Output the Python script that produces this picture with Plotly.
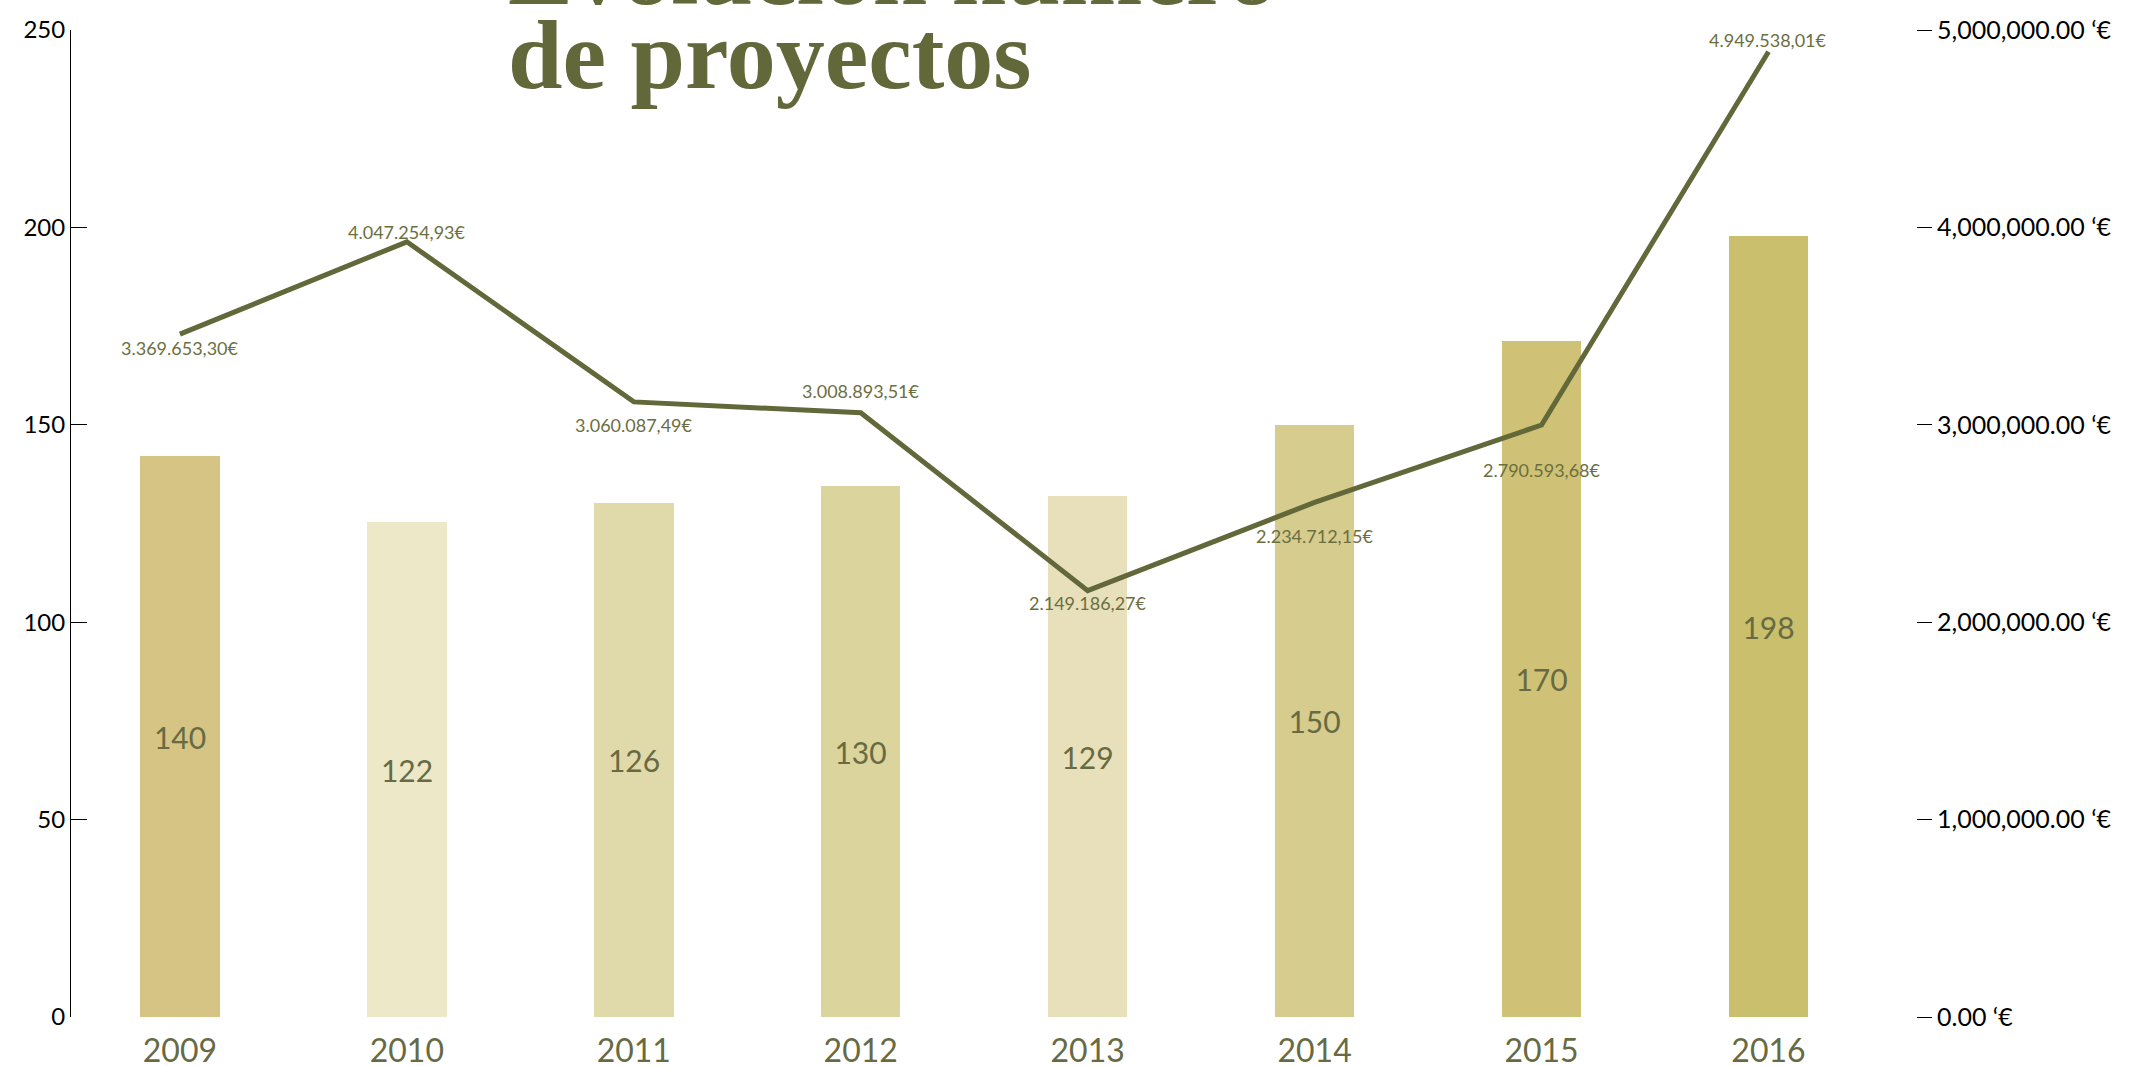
import plotly.graph_objects as go

years = ["2009", "2010", "2011", "2012", "2013", "2014", "2015", "2016"]
proyectos = [142, 125.5, 130.3, 134.5, 132, 149.9, 171.2, 197.7]
proyectos_txt = ["140", "122", "126", "130", "129", "150", "170", "198"]
importe = [3459000, 3927000, 3116000, 3061000, 2160000, 2607000, 2999000, 4890000]
importe_txt = [
    "3.369.653,30€", "4.047.254,93€", "3.060.087,49€", "3.008.893,51€",
    "2.149.186,27€", "2.234.712,15€", "2.790.593,68€", "4.949.538,01€",
]
bar_colors = ["#d5c483", "#ece8c8", "#e0d9aa", "#dbd49d", "#e7e0bb", "#d5cc8e", "#cfc175", "#c9bf6c"]
# vertical nudge (px) of each amount label relative to its point
label_shift = [-14, 10, -23, 22, -12, -34, -45, 12]

OLIVE = "#62683a"
FONT = "Lato"

fig = go.Figure()

fig.add_trace(
    go.Bar(
        x=years, y=proyectos, text=proyectos_txt,
        textposition="inside", insidetextanchor="middle",
        textfont={"size": 30, "color": "#676a42", "family": FONT},
        marker={"color": bar_colors, "line": {"width": 0}},
        width=0.35, name="Proyectos",
    )
)

fig.add_trace(
    go.Scatter(
        x=years, y=importe, yaxis="y2", mode="lines",
        line={"color": OLIVE, "width": 5}, name="Importe",
    )
)

# category axis -> annotation x is the category index
for i, (val, txt, dy) in enumerate(zip(importe, importe_txt, label_shift)):
    fig.add_annotation(
        x=i, y=val, xref="x", yref="y2", text=txt, showarrow=False, yshift=dy,
        font={"size": 18, "color": "#6b6f40", "family": FONT},
    )

# title, second line sits over the plot, first line runs off the top
fig.add_annotation(
    text="<b>Evolución número</b>", xref="paper", yref="paper",
    x=0.236, y=1.003, xanchor="left", yanchor="bottom", showarrow=False,
    font={"family": "Liberation Serif", "size": 98, "color": OLIVE},
)
fig.add_annotation(
    text="<b>de proyectos</b>", xref="paper", yref="paper",
    x=0.236, y=0.918, xanchor="left", yanchor="bottom", showarrow=False,
    font={"family": "Liberation Serif", "size": 98, "color": OLIVE},
)

fig.update_layout(
    width=2129, height=1066,
    margin={"l": 71, "r": 213, "t": 30, "b": 49, "autoexpand": False},
    plot_bgcolor="white", paper_bgcolor="white",
    showlegend=False, bargap=0,
    font={"family": FONT},
    xaxis={
        "type": "category", "range": [-0.48, 7.65], "showgrid": False, "showline": False,
        "automargin": False, "ticks": "", "ticklabelstandoff": 12,
        "tickfont": {"size": 32, "color": "#676a42"},
    },
    yaxis={
        "range": [0, 250], "dtick": 50, "showgrid": False, "zeroline": False, "automargin": False,
        "showline": True, "linecolor": "black", "linewidth": 1,
        "ticks": "inside", "ticklen": 16, "tickcolor": "black",
        "tickfont": {"size": 24, "color": "black"},
    },
    yaxis2={
        "range": [0, 5000000], "dtick": 1000000, "overlaying": "y", "side": "right",
        "showgrid": False, "zeroline": False, "showline": False, "automargin": False,
        "ticks": "outside", "ticklen": 15, "tickcolor": "black",
        "tickformat": ",.2f", "ticksuffix": " ‘€",
        "tickfont": {"size": 25, "color": "black"},
    },
)

fig.write_html(
    "out.html",
    config={"displayModeBar": False},
    post_script="document.body.style.margin = '0';",
)
